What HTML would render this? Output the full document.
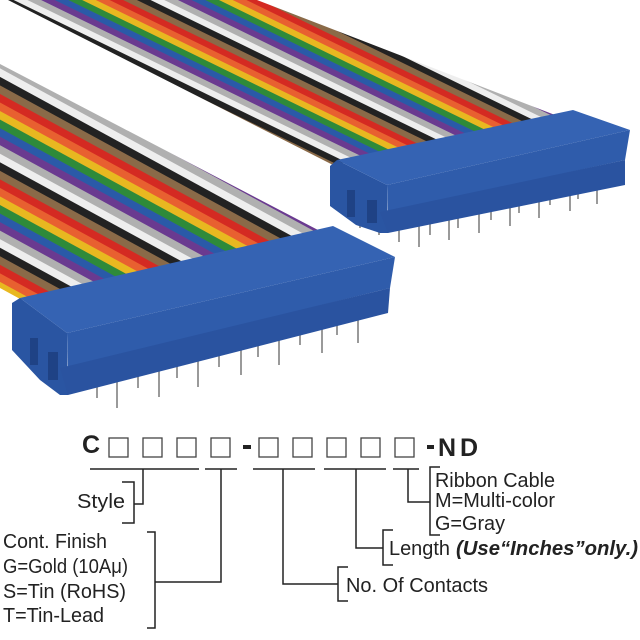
<!DOCTYPE html>
<html><head><meta charset="utf-8"><style>
html,body{margin:0;padding:0;background:#fff;}
svg{display:block;}
text{font-family:"Liberation Sans",Arial,sans-serif;fill:#222;}
</style></head><body>
<svg width="640" height="640" viewBox="0 0 640 640" xmlns="http://www.w3.org/2000/svg">
<defs>
<pattern id="stA" patternUnits="userSpaceOnUse" width="400" height="75" patternTransform="rotate(28.6)">
<rect y="0" width="400" height="7.5" fill="#8a6a48"/><rect y="7.5" width="400" height="7.5" fill="#d42a22"/>
<rect y="15" width="400" height="7.5" fill="#e86030"/><rect y="22.5" width="400" height="7.5" fill="#e8b820"/>
<rect y="30" width="400" height="7.5" fill="#2e8a3a"/><rect y="37.5" width="400" height="7.5" fill="#2a5aa8"/>
<rect y="45" width="400" height="7.5" fill="#6a3a90"/><rect y="52.5" width="400" height="7.5" fill="#b0b0b0"/>
<rect y="60" width="400" height="7.5" fill="#eeeeee"/><rect y="67.5" width="400" height="7.5" fill="#222"/>
</pattern>
<pattern id="stB" patternUnits="userSpaceOnUse" width="400" height="60" patternTransform="rotate(26)">
<rect y="0" width="400" height="6" fill="#8a6a48"/><rect y="6" width="400" height="6" fill="#d42a22"/>
<rect y="12" width="400" height="6" fill="#e86030"/><rect y="18" width="400" height="6" fill="#e8b820"/>
<rect y="24" width="400" height="6" fill="#2e8a3a"/><rect y="30" width="400" height="6" fill="#2a5aa8"/>
<rect y="36" width="400" height="6" fill="#6a3a90"/><rect y="42" width="400" height="6" fill="#b0b0b0"/>
<rect y="48" width="400" height="6" fill="#eeeeee"/><rect y="54" width="400" height="6" fill="#222"/>
</pattern>
</defs>
<!-- back ribbon -->
<polygon points="8,0 257,0 555,115 333,165" fill="url(#stB)"/>
<!-- back pins -->
<g stroke="#9a9a9a" stroke-width="2">
<line x1="360" y1="215" x2="360" y2="228"/><line x1="379" y1="220" x2="379" y2="235"/>
<line x1="399" y1="225" x2="399" y2="242"/><line x1="419" y1="226" x2="419" y2="247"/>
<line x1="430" y1="222" x2="430" y2="235"/><line x1="449" y1="218" x2="449" y2="240"/>
<line x1="458" y1="216" x2="458" y2="228"/><line x1="479" y1="212" x2="479" y2="233"/>
<line x1="491" y1="209" x2="491" y2="220"/><line x1="510" y1="204" x2="510" y2="226"/>
<line x1="519" y1="202" x2="519" y2="213"/><line x1="539" y1="198" x2="539" y2="218"/>
<line x1="550" y1="195" x2="550" y2="205"/><line x1="570" y1="191" x2="570" y2="211"/>
<line x1="578" y1="189" x2="578" y2="199"/><line x1="597" y1="182" x2="597" y2="204"/>
</g>
<!-- back connector -->
<polygon points="330,166 337,160 387,185 388,233 380,233 356,225 330,206" fill="#2a55a2"/>
<polygon points="337,160 573,110 630,130 387,185" fill="#3563b3"/>
<polygon points="387,185 630,130 625,160 388,212" fill="#2f5cab"/>
<polygon points="380,212 625,160 625,185 388,233" fill="#2a53a0"/>
<rect x="347" y="190" width="8" height="27" fill="#1f4285"/><rect x="367" y="200" width="10" height="23" fill="#1f4285"/>
<!-- front ribbon -->
<polygon points="0,64 318,230 22,300 0,288" fill="url(#stA)"/>
<!-- front pins -->
<g stroke="#9a9a9a" stroke-width="2">
<line x1="97" y1="385" x2="97" y2="398"/><line x1="117" y1="382" x2="117" y2="408"/>
<line x1="138" y1="375" x2="138" y2="388"/><line x1="159" y1="370" x2="159" y2="397"/>
<line x1="177" y1="365" x2="177" y2="378"/><line x1="198" y1="360" x2="198" y2="387"/>
<line x1="219" y1="355" x2="219" y2="367"/><line x1="241" y1="350" x2="241" y2="375"/>
<line x1="258" y1="345" x2="258" y2="357"/><line x1="279" y1="340" x2="279" y2="365"/>
<line x1="300" y1="334" x2="300" y2="345"/><line x1="322" y1="328" x2="322" y2="353"/>
<line x1="337" y1="324" x2="337" y2="335"/><line x1="358" y1="319" x2="358" y2="343"/>
</g>
<!-- front connector -->
<polygon points="12,303 20,298 67,333 68,395 60,395 40,380 12,350" fill="#2a55a2"/>
<polygon points="20,298 333,226 395,257 67,333" fill="#3563b3"/>
<polygon points="67,333 395,257 390,288 68,368" fill="#2f5cab"/>
<polygon points="60,368 390,288 388,313 68,395" fill="#2a53a0"/>
<rect x="30" y="338" width="8" height="27" fill="#1f4285"/><rect x="48" y="352" width="10" height="28" fill="#1f4285"/>

<!-- part number -->
<text x="82" y="453" font-size="25" font-weight="bold" fill="#222">C</text>
<g fill="none" stroke="#444" stroke-width="1.3">
<rect x="109" y="438" width="19" height="19"/><rect x="143" y="438" width="19" height="19"/>
<rect x="177" y="438" width="19" height="19"/><rect x="211" y="438" width="19" height="19"/>
<rect x="259" y="438" width="19" height="19"/><rect x="293" y="438" width="19" height="19"/>
<rect x="327" y="438" width="19" height="19"/><rect x="361" y="438" width="19" height="19"/>
<rect x="395" y="438" width="19" height="19"/>
</g>
<rect x="243" y="445" width="8" height="4" fill="#222"/>
<rect x="427" y="445" width="7" height="4" fill="#222"/>
<text x="438" y="456" font-size="25" font-weight="bold" letter-spacing="4">ND</text>

<g stroke="#222" stroke-width="1.5" fill="none">
<line x1="90" y1="469" x2="199" y2="469"/><line x1="205" y1="469" x2="237" y2="469"/>
<line x1="253" y1="469" x2="315" y2="469"/><line x1="324" y1="469" x2="386" y2="469"/>
<line x1="393" y1="469" x2="419" y2="469"/>
<polyline points="143,469 143,504 134,504"/><polyline points="122,482 134,482 134,523 122,523"/>
<polyline points="221,469 221,582 155,582"/><polyline points="147,532 155,532 155,628 147,628"/>
<polyline points="283,469 283,584 338,584"/><polyline points="348,567 338,567 338,601 348,601"/>
<polyline points="356,469 356,548 383,548"/><polyline points="393,530 383,530 383,565 393,565"/>
<polyline points="408,469 408,502 430,502"/><polyline points="440,467 430,467 430,535 440,535"/>
</g>
<g font-size="20">
<text x="77" y="508" textLength="48" lengthAdjust="spacingAndGlyphs">Style</text>
<text x="3" y="548" textLength="104" lengthAdjust="spacingAndGlyphs">Cont. Finish</text>
<text x="3" y="573" textLength="125" lengthAdjust="spacingAndGlyphs">G=Gold (10Aμ)</text>
<text x="3" y="598" textLength="123" lengthAdjust="spacingAndGlyphs">S=Tin (RoHS)</text>
<text x="3" y="622" textLength="101" lengthAdjust="spacingAndGlyphs">T=Tin-Lead</text>
<text x="346" y="592" textLength="142" lengthAdjust="spacingAndGlyphs">No. Of Contacts</text>
<text x="389" y="555" textLength="61" lengthAdjust="spacingAndGlyphs">Length</text>
<text x="456" y="555" textLength="182" lengthAdjust="spacingAndGlyphs" font-weight="bold" font-style="italic">(Use“Inches”only.)</text>
<text x="435" y="487" textLength="120" lengthAdjust="spacingAndGlyphs">Ribbon Cable</text>
<text x="435" y="507" textLength="120" lengthAdjust="spacingAndGlyphs">M=Multi-color</text>
<text x="435" y="530" textLength="70" lengthAdjust="spacingAndGlyphs">G=Gray</text>
</g>
</svg>
</body></html>
